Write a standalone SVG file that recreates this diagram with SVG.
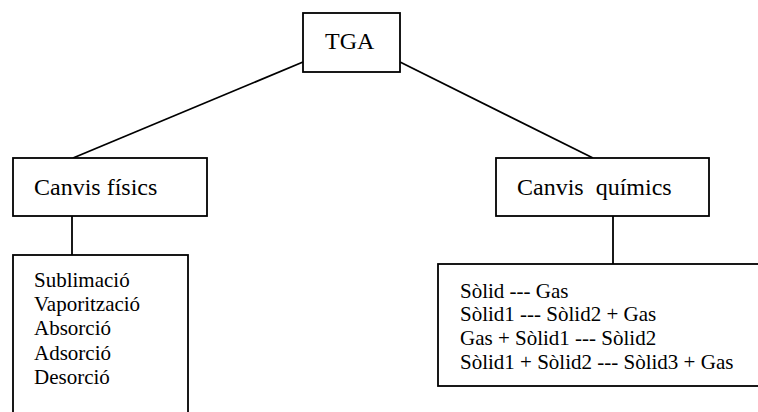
<svg xmlns="http://www.w3.org/2000/svg" width="758" height="412" viewBox="0 0 758 412">
<style>
.box{fill:#fff;stroke:#000;stroke-width:1.8}
.ln{stroke:#000;stroke-width:1.8;fill:none}
.big{font-size:24px}
.sm{font-size:21px}
</style>
<rect width="758" height="412" fill="#fff"/>
<g id="connectors">
<line class="ln" x1="303" y1="62" x2="73" y2="158"/>
<line class="ln" x1="400" y1="62" x2="593" y2="158"/>
<line class="ln" x1="72" y1="216" x2="72" y2="255"/>
<line class="ln" x1="613" y1="216" x2="613" y2="264"/>
</g>
<g font-family="Liberation Serif, Tinos, DejaVu Serif, serif" fill="#000">
<g id="tga">
<rect class="box" x="303" y="13" width="97" height="59"/>
<text class="big" x="325" y="49">TGA</text>
</g>
<g id="fisics">
<rect class="box" x="13" y="158" width="194" height="58"/>
<text class="big" x="34" y="195">Canvis físics</text>
</g>
<g id="quimics">
<rect class="box" x="496" y="158" width="213" height="58"/>
<text class="big" x="517" y="195" xml:space="preserve">Canvis  químics</text>
</g>
<g id="fisics-list">
<rect class="box" x="13" y="255" width="175" height="170"/>
<text class="sm" x="34" y="287">Sublimació</text>
<text class="sm" x="34" y="311">Vaporització</text>
<text class="sm" x="34" y="335">Absorció</text>
<text class="sm" x="34" y="360">Adsorció</text>
<text class="sm" x="34" y="384">Desorció</text>
</g>
<g id="quimics-list">
<rect class="box" x="438" y="264" width="330" height="122"/>
<text class="sm" x="460" y="298">Sòlid --- Gas</text>
<text class="sm" x="460" y="321">Sòlid1 --- Sòlid2 + Gas</text>
<text class="sm" x="460" y="345">Gas + Sòlid1 --- Sòlid2</text>
<text class="sm" x="460" y="369">Sòlid1 + Sòlid2 --- Sòlid3 + Gas</text>
</g>
</g>
</svg>
